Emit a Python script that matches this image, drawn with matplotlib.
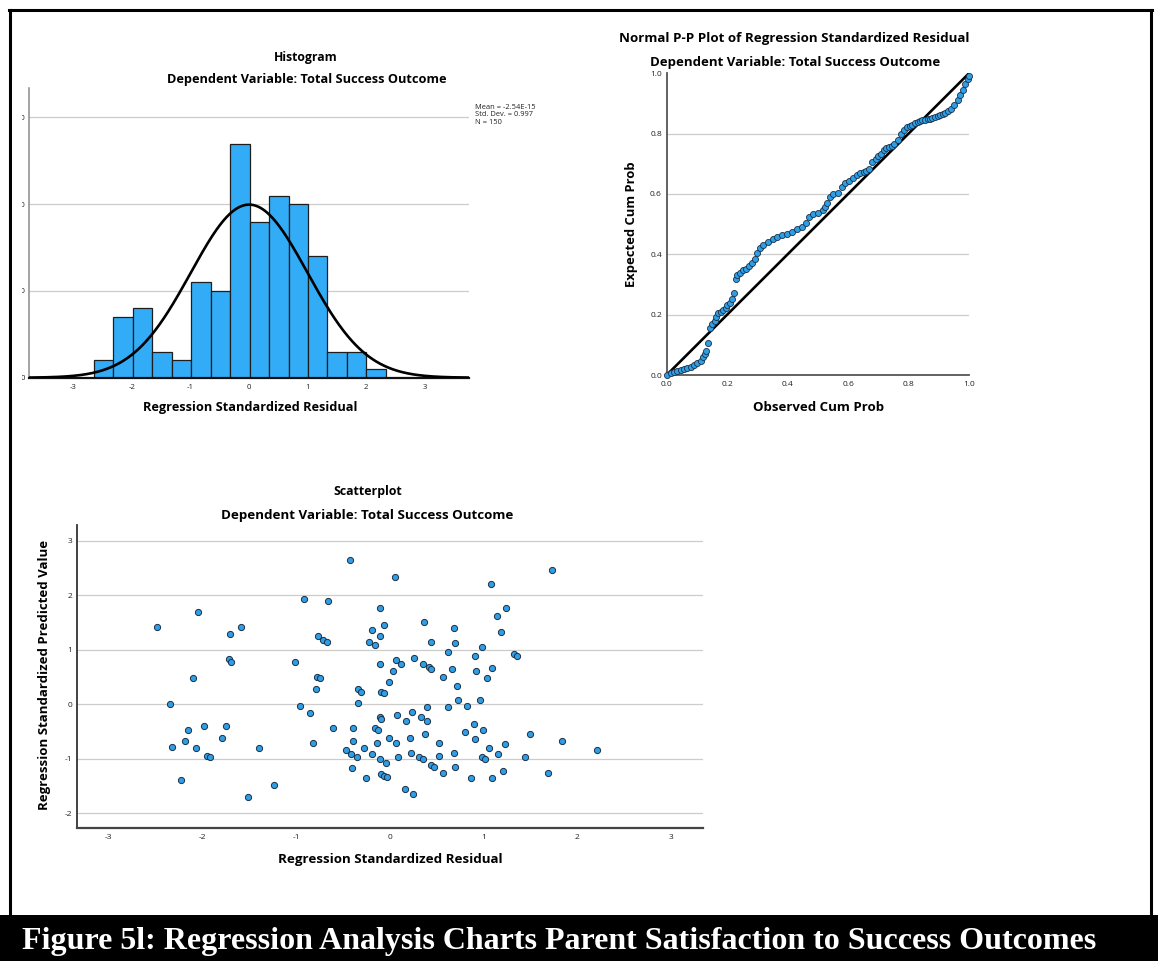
import numpy as np
import matplotlib
matplotlib.use("Agg")
import matplotlib.pyplot as plt
from matplotlib.patches import Rectangle
from matplotlib.lines import Line2D

plt.rcParams['axes.unicode_minus'] = False

W, H = 1158, 961

# ------------------------------------------------------------------ data
hist_bin_edges = [-2.652, -2.320, -1.987, -1.655, -1.322, -0.990, -0.657, -0.325,
                  0.008, 0.340, 0.673, 1.005, 1.338, 1.670, 2.003, 2.335]
hist_counts = [2, 7, 8, 3, 2, 11, 10, 27, 18, 21, 20, 14, 3, 3, 1]
hist_mean = -2.54e-15
hist_sd = 0.997
hist_n = 150
hist_yticks = [0, 10, 20, 30]
hist_xticks = [-3, -2, -1, 0, 1, 2, 3]
hist_stats = ["Mean = -2.54E-15", "Std. Dev. = 0.997", "N = 150"]

pp_observed = [0.000, 0.013, 0.024, 0.035, 0.046, 0.057, 0.068, 0.079, 0.090, 0.101,
               0.112, 0.121, 0.126, 0.130, 0.138, 0.143, 0.151, 0.159, 0.164, 0.171,
               0.179, 0.187, 0.195, 0.200, 0.208, 0.215, 0.223, 0.228, 0.234, 0.242,
               0.253, 0.263, 0.273, 0.283, 0.292, 0.300, 0.309, 0.320, 0.336, 0.351,
               0.364, 0.380, 0.397, 0.413, 0.430, 0.447, 0.461, 0.472, 0.485, 0.501,
               0.516, 0.524, 0.531, 0.540, 0.551, 0.568, 0.579, 0.590, 0.604, 0.617,
               0.630, 0.641, 0.652, 0.660, 0.669, 0.680, 0.691, 0.700, 0.708, 0.719,
               0.727, 0.735, 0.744, 0.752, 0.765, 0.776, 0.785, 0.796, 0.805, 0.813,
               0.822, 0.830, 0.838, 0.846, 0.855, 0.863, 0.871, 0.879, 0.888, 0.896,
               0.905, 0.913, 0.921, 0.929, 0.940, 0.951, 0.962, 0.971, 0.979, 0.987,
               0.996, 1.000]
pp_expected = [0.000, 0.006, 0.011, 0.014, 0.017, 0.020, 0.022, 0.028, 0.032, 0.039,
               0.047, 0.061, 0.070, 0.081, 0.107, 0.155, 0.168, 0.179, 0.193, 0.204,
               0.210, 0.215, 0.221, 0.231, 0.240, 0.251, 0.271, 0.319, 0.331, 0.339,
               0.347, 0.352, 0.360, 0.370, 0.385, 0.405, 0.420, 0.431, 0.440, 0.450,
               0.458, 0.464, 0.467, 0.475, 0.483, 0.492, 0.503, 0.525, 0.533, 0.536,
               0.547, 0.558, 0.571, 0.591, 0.600, 0.604, 0.624, 0.637, 0.643, 0.652,
               0.663, 0.668, 0.673, 0.677, 0.684, 0.706, 0.717, 0.725, 0.734, 0.747,
               0.752, 0.756, 0.760, 0.765, 0.778, 0.800, 0.813, 0.822, 0.826, 0.830,
               0.835, 0.839, 0.842, 0.844, 0.846, 0.847, 0.850, 0.853, 0.856, 0.858,
               0.862, 0.866, 0.870, 0.874, 0.883, 0.894, 0.911, 0.929, 0.944, 0.964,
               0.982, 0.991]
pp_ticks = [0.0, 0.2, 0.4, 0.6, 0.8, 1.0]
pp_tick_labels = ["0.0", "0.2", "0.4", "0.6", "0.8", "1.0"]

scatter_residual = [
    -2.48, -2.05, -1.59, -1.70, -1.72, -1.69, -2.10, -2.35, -2.15, -1.98,
    -1.75, -2.19, -2.32, -2.07, -1.79, -1.95, -1.92, -2.23, -1.40, -1.51,
    -1.24, -0.43, -0.92, -0.66, -0.77, -0.71, -0.67, -1.01, -0.78, -0.75,
    -0.79, -0.96, -0.85, -0.61, -0.82, -0.34, -0.31, -0.34, -0.19, -0.22,
    -0.16, -0.39, -0.39, -0.47, -0.41, -0.35, -0.40, -0.28, -0.19, -0.16,
    -0.13, -0.14, -0.25,
    0.06, 1.73, 1.08, -0.10, 1.24, 1.14, 1.19, -0.06, -0.10, 0.36,
    0.68, 0.44, 0.69, 0.98, 0.62, 1.32, 1.36, 0.91, -0.10, 0.07,
    0.12, 0.03, 0.26, 0.35, 0.42, 0.44, 0.66, 1.09, 0.92, 1.04,
    0.57, 0.72, -0.01, -0.09, -0.06, 0.73, 0.96, 0.82, 0.62, 0.40,
    0.08, 0.24, -0.11, -0.09, 0.17, 0.33, 0.40, 0.90, 0.37, 0.80,
    0.99, 1.49, -0.01, 0.22, 0.91, 0.07, 0.52, 1.84, 1.23, 1.06,
    2.21, 0.23, 0.68, 1.15, -0.10, -0.04, 0.09, 0.31, 0.35, 0.52,
    0.98, 1.02, 1.44, 0.44, 0.47, 0.70, 0.57, 1.21, 1.69, -0.09,
    -0.06, -0.03, 0.87, 1.09, 0.16, 0.25]
scatter_predicted = [
    1.42, 1.69, 1.42, 1.29, 0.82, 0.78, 0.48, 0.00, -0.48, -0.41,
    -0.41, -0.68, -0.78, -0.81, -0.62, -0.95, -0.98, -1.39, -0.81, -1.70,
    -1.49, 2.64, 1.93, 1.89, 1.25, 1.18, 1.15, 0.78, 0.50, 0.48,
    0.27, -0.04, -0.16, -0.43, -0.71, 0.27, 0.23, 0.02, 1.36, 1.15,
    1.08, -0.43, -0.68, -0.84, -0.91, -0.98, -1.18, -0.81, -0.91, -0.43,
    -0.48, -0.71, -1.35,
    2.33, 2.47, 2.20, 1.76, 1.76, 1.62, 1.32, 1.46, 1.25, 1.50,
    1.39, 1.15, 1.12, 1.04, 0.96, 0.92, 0.88, 0.88, 0.74, 0.81,
    0.74, 0.60, 0.85, 0.74, 0.68, 0.65, 0.65, 0.67, 0.60, 0.48,
    0.50, 0.34, 0.40, 0.23, 0.20, 0.07, 0.07, -0.04, -0.06, -0.06,
    -0.20, -0.14, -0.24, -0.27, -0.31, -0.24, -0.31, -0.37, -0.54, -0.51,
    -0.48, -0.54, -0.62, -0.62, -0.64, -0.71, -0.71, -0.68, -0.74, -0.81,
    -0.85, -0.89, -0.89, -0.91, -1.01, -1.08, -0.98, -0.98, -1.01, -0.95,
    -0.98, -1.01, -0.98, -1.12, -1.15, -1.15, -1.26, -1.22, -1.26, -1.29,
    -1.32, -1.34, -1.35, -1.35, -1.56, -1.66]
scatter_xticks = [-3, -2, -1, 0, 1, 2, 3]
scatter_yticks = [-2, -1, 0, 1, 2, 3]

subtitle = "Dependent Variable: Total Success Outcome"
caption = "Figure 5l: Regression Analysis Charts Parent Satisfaction to Success Outcomes"

# ------------------------------------------------------------------ style
TITLE_FONT = ["Open Sans", "DejaVu Sans"]
TICK_FONT = ["Open Sans", "DejaVu Sans"]
BAR_COLOR = "#33acf7"
DOT_COLOR = "#2e9ee6"
DOT_EDGE = "#1b2f44"
GRID_COLOR = "#cccccc"
TICK_COLOR = "#222222"

fig = plt.figure(figsize=(W / 100, H / 100), dpi=100)
fig.patch.set_facecolor("white")
renderer = fig.canvas.get_renderer()


def px_axes(l, t, r, b):
    return fig.add_axes([l / W, 1 - b / H, (r - l) / W, (b - t) / H])


def ftext(x, y, s, target=None, size=9, rotation=0, **kw):
    t = fig.text(x / W, 1 - y / H, s, fontsize=size, ha="center", va="center", **kw)
    if target is not None:
        w = t.get_window_extent(renderer).width
        t.set_fontsize(size * target / w)
    t.set_rotation(rotation)
    return t


def style_axes(ax, xpad, ypad, tsize):
    for side in ("top", "right"):
        ax.spines[side].set_visible(False)
    ax.tick_params(length=0, labelsize=tsize, labelcolor=TICK_COLOR)
    ax.tick_params(axis="x", pad=xpad)
    ax.tick_params(axis="y", pad=ypad)
    for lab in ax.get_xticklabels() + ax.get_yticklabels():
        lab.set_family(TICK_FONT)
    ax.set_facecolor("white")


# ------------------------------------------------------------------ histogram
axh = px_axes(29, 88, 469.3, 377.7)
edges = np.array(hist_bin_edges)
axh.bar(edges[:-1], hist_counts, width=np.diff(edges), align="edge",
        color=BAR_COLOR, edgecolor="#1e1e1e", linewidth=0.9, zorder=2)
bw = float(np.mean(np.diff(edges)))
xc = np.linspace(-3.76, 3.76, 400)
yc = hist_n * bw / (hist_sd * np.sqrt(2 * np.pi)) * np.exp(-0.5 * ((xc - hist_mean) / hist_sd) ** 2)
axh.plot(xc, yc, color="black", lw=1.9, zorder=3, solid_capstyle="butt")
axh.set_xlim(-3.76, 3.76)
axh.set_ylim(0, 33.4)
axh.set_xticks(hist_xticks)
axh.set_xticklabels([str(v) for v in hist_xticks])
axh.set_yticks(hist_yticks)
axh.set_yticklabels([str(v) for v in hist_yticks])
axh.yaxis.grid(True, color=GRID_COLOR, lw=0.9)
axh.set_axisbelow(True)
style_axes(axh, 4.5, 2.6, 5.6)
axh.spines["left"].set_color("#8a8a8a")
axh.spines["left"].set_linewidth(1.1)
axh.spines["bottom"].set_color("#111111")
axh.spines["bottom"].set_linewidth(1.6)

# clip y tick labels like the cropped original
fig.add_artist(Rectangle((11.6 / W, 1 - 400 / H), (22.2 - 11.6) / W, 320 / H,
                         transform=fig.transFigure, facecolor="white",
                         edgecolor="none", zorder=5))

ftext(306, 57, "Histogram", target=64, family=TITLE_FONT, weight="bold")
ftext(307, 79.5, subtitle, target=278, family=TITLE_FONT, weight="bold")
ftext(250, 408, "Regression Standardized Residual", target=214,
      family=TITLE_FONT, weight="bold")
fig.text(475 / W, 1 - 104 / H, "\n".join(hist_stats), fontsize=5.4,
         family=TICK_FONT, color="#222222", ha="left", va="top", linespacing=1.05)

# ------------------------------------------------------------------ P-P plot
axp = px_axes(666.7, 73.3, 969, 375)
for v in pp_ticks[1:-1]:
    axp.axhline(v, color=GRID_COLOR, lw=0.9, zorder=1)
axp.plot([0, 1], [0, 1], color="black", lw=1.9, zorder=2)
axp.scatter(pp_observed, pp_expected, s=19, facecolor=DOT_COLOR,
            edgecolor=DOT_EDGE, linewidths=0.6, zorder=3, clip_on=False)
axp.set_xlim(0, 1)
axp.set_ylim(0, 1)
axp.set_xticks(pp_ticks)
axp.set_xticklabels(pp_tick_labels)
axp.set_yticks(pp_ticks)
axp.set_yticklabels(pp_tick_labels)
style_axes(axp, 4.5, 3.4, 6.0)
for side in ("left", "bottom"):
    axp.spines[side].set_color("#555555")
    axp.spines[side].set_linewidth(1.3)

ftext(794.3, 38.5, "Normal P-P Plot of Regression Standardized Residual", target=350,
      family=TITLE_FONT, weight="bold")
ftext(794.7, 62.3, subtitle, target=289, family=TITLE_FONT, weight="bold")
ftext(818.3, 407.5, "Observed Cum Prob", target=131, family=TITLE_FONT, weight="bold")
ftext(632, 224, "Expected Cum Prob", target=125, rotation=90,
      family=TITLE_FONT, weight="bold")

# ------------------------------------------------------------------ scatterplot
axs = px_axes(76.7, 525, 703, 827.7)
axs.scatter(scatter_residual, scatter_predicted, s=20, facecolor=DOT_COLOR,
            edgecolor=DOT_EDGE, linewidths=0.7, zorder=3)
axs.set_xlim(-3.34, 3.34)
axs.set_ylim(-2.27, 3.29)
axs.set_xticks(scatter_xticks)
axs.set_xticklabels([str(v) for v in scatter_xticks])
axs.set_yticks(scatter_yticks)
axs.set_yticklabels([str(v) for v in scatter_yticks])
axs.yaxis.grid(True, color=GRID_COLOR, lw=0.9)
axs.set_axisbelow(True)
style_axes(axs, 4.8, 3.2, 6.0)
axs.spines["left"].set_color("#333333")
axs.spines["left"].set_linewidth(1.3)
axs.spines["bottom"].set_color("#444444")
axs.spines["bottom"].set_linewidth(1.6)

ftext(367.5, 492, "Scatterplot", target=69, family=TITLE_FONT, weight="bold")
ftext(367.5, 515, subtitle, target=291, family=TITLE_FONT, weight="bold")
ftext(390, 860, "Regression Standardized Residual", target=225,
      family=TITLE_FONT, weight="bold")
ftext(45, 675, "Regression Standardized Predicted Value", target=270, rotation=90,
      family=TITLE_FONT, weight="bold")

# ------------------------------------------------------------------ frame & caption
fig.add_artist(Rectangle((0, 0), 1, 46 / H, transform=fig.transFigure,
                         facecolor="black", edgecolor="none", zorder=4))
lw_frame = 2.2
fig.add_artist(Line2D([9.5 / W, 9.5 / W], [1 - 9.5 / H, 46 / H], transform=fig.transFigure,
                      color="black", lw=lw_frame, zorder=4))
fig.add_artist(Line2D([8.5 / W, 1151.5 / W], [1 - 9.5 / H, 1 - 9.5 / H], transform=fig.transFigure,
                      color="black", lw=lw_frame, zorder=4))
fig.add_artist(Line2D([1150.5 / W, 1150.5 / W], [1 - 9.5 / H, 46 / H], transform=fig.transFigure,
                      color="black", lw=lw_frame, zorder=4))

cap = fig.text(22 / W, 1 - 941 / H, caption, fontsize=20, family=["Liberation Serif", "DejaVu Serif"],
               weight="bold", color="white", ha="left", va="center", zorder=6)
cw = cap.get_window_extent(renderer).width
cap.set_fontsize(20 * 1075 / cw)

fig.savefig("out.png", dpi=100, facecolor="white")
